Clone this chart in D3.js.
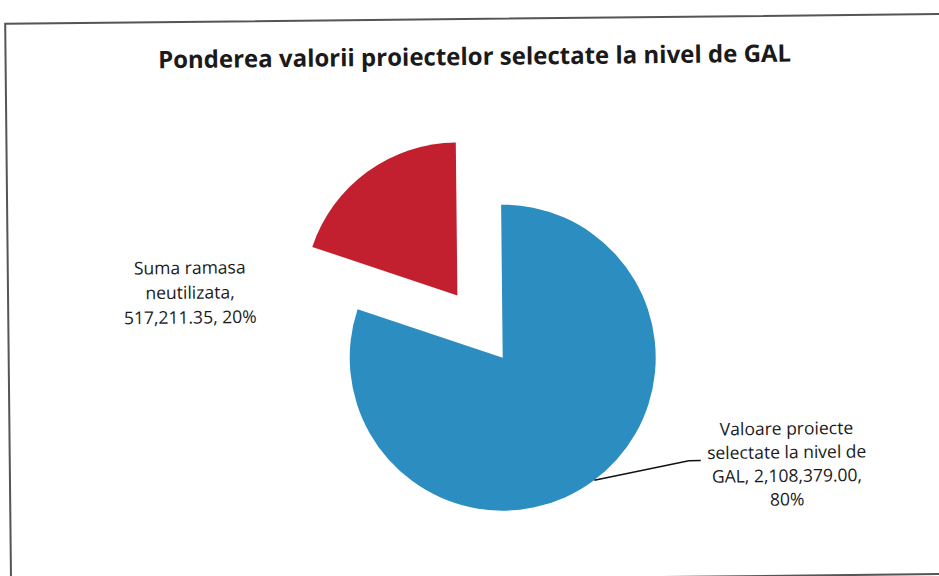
<!DOCTYPE html>
<html>
<head>
<meta charset="utf-8">
<script src="https://cdn.jsdelivr.net/npm/d3@7"></script>
<style>
  body { margin: 0; background: #fff; }
  text { font-family: "Open Sans", Lato, sans-serif; fill: #1a1a1a; }
</style>
</head>
<body>
<div id="chart"></div>
<script>
var width = 939, height = 576;

var title = "Ponderea valorii proiectelor selectate la nivel de GAL";
var categories = ["Valoare proiecte selectate la nivel de GAL", "Suma ramasa neutilizata"];
var values = [2108379.00, 517211.35];
var percents = ["80%", "20%"];
var colors = ["#2b8dc0", "#c21f2f"];

// label lines, as wrapped in the picture
var labelLines = [
    ["Valoare proiecte", "selectate la nivel de", "GAL, 2,108,379.00,", "80%"],
    ["Suma ramasa", "neutilizata,", "517,211.35, 20%"]
];

var cx = 502, cy = 358, radius = 153, explode = 77;

var svg = d3.select("#chart")
    .append("svg")
    .attr("width", width)
    .attr("height", height);

// the scan is slightly tilted
var g = svg.append("g")
    .attr("transform", "rotate(-0.6, 470, 290)");

g.append("rect")
    .attr("x", 8)
    .attr("y", 19)
    .attr("width", 960)
    .attr("height", 560)
    .attr("fill", "none")
    .attr("stroke", "#555")
    .attr("stroke-width", 2);

g.append("text")
    .attr("x", 477)
    .attr("y", 65)
    .attr("text-anchor", "middle")
    .attr("font-size", 24)
    .attr("font-weight", "bold")
    .text(title);

var pie = d3.pie().sort(null).value(function (d) { return d; });
var arcs = pie(values);
var arc = d3.arc().innerRadius(0).outerRadius(radius);

var slices = g.append("g")
    .attr("transform", "translate(" + cx + "," + cy + ")");

slices.selectAll("path")
    .data(arcs)
    .enter()
    .append("path")
    .attr("d", arc)
    .attr("fill", function (d, i) { return colors[i]; })
    .attr("transform", function (d, i) {
        if (i == 0) return null;
        var mid = (d.startAngle + d.endAngle) / 2;
        return "translate(" + (Math.sin(mid) * explode) + "," + (-Math.cos(mid) * explode) + ")";
    });

// leader line for the big slice
var a0 = 2.51;
var px = cx + Math.sin(a0) * radius, py = cy - Math.cos(a0) * radius;
g.append("path")
    .attr("d", "M" + px + "," + py + "L" + 687 + "," + 463 + "L" + 699 + "," + 463)
    .attr("stroke", "#111")
    .attr("stroke-width", 1.5)
    .attr("fill", "none");

var labelPos = [[785, 438], [190, 271]];
var lineH = [23.6, 24.8];

labelLines.forEach(function (lines, i) {
    var t = g.append("text")
        .attr("text-anchor", "middle")
        .attr("font-size", 17.5);
    lines.forEach(function (s, j) {
        t.append("tspan")
            .attr("x", labelPos[i][0])
            .attr("y", labelPos[i][1] + j * lineH[i])
            .text(s);
    });
});
</script>
</body>
</html>
